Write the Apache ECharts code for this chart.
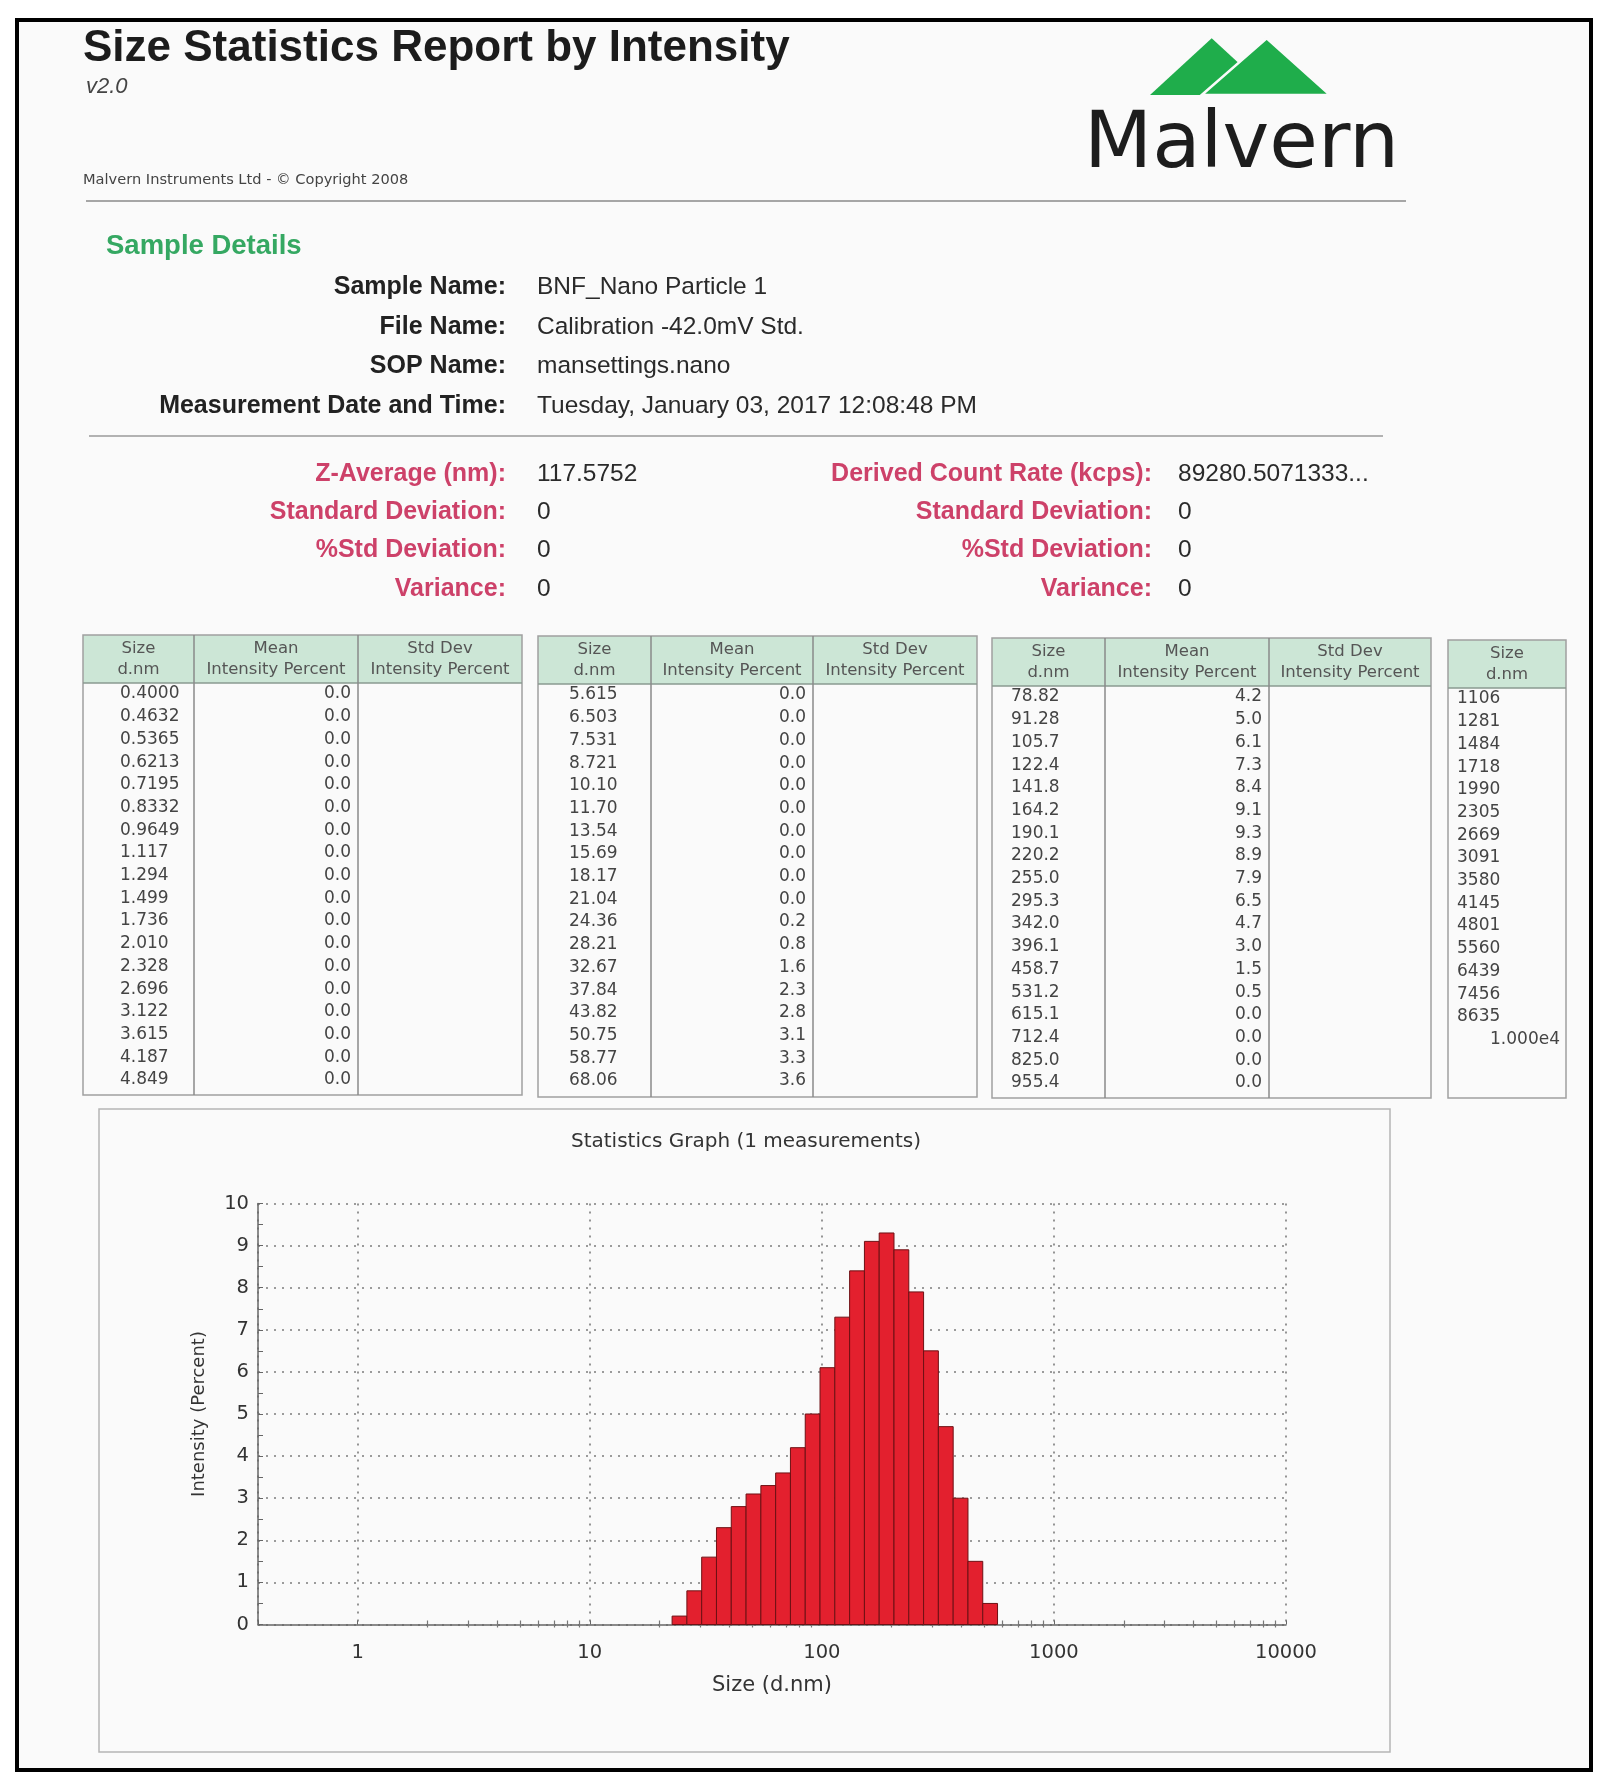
<!DOCTYPE html>
<html>
<head>
<meta charset="utf-8">
<title>Size Statistics Report by Intensity</title>
<script src="https://cdn.jsdelivr.net/npm/echarts@6/dist/echarts.min.js"></script>
<style>
    html, body { margin: 0; padding: 0; background: #fff; }
    #main { width: 1608px; height: 1792px; }
</style>
</head>
<body>
<div id="main"></div>
<script>
    // size bins (d.nm) as printed in the four tables
    var sizeTable1 = ['0.4000', '0.4632', '0.5365', '0.6213', '0.7195', '0.8332', '0.9649', '1.117', '1.294',
        '1.499', '1.736', '2.010', '2.328', '2.696', '3.122', '3.615', '4.187', '4.849'];
    var sizeTable2 = ['5.615', '6.503', '7.531', '8.721', '10.10', '11.70', '13.54', '15.69', '18.17',
        '21.04', '24.36', '28.21', '32.67', '37.84', '43.82', '50.75', '58.77', '68.06'];
    var sizeTable3 = ['78.82', '91.28', '105.7', '122.4', '141.8', '164.2', '190.1', '220.2', '255.0',
        '295.3', '342.0', '396.1', '458.7', '531.2', '615.1', '712.4', '825.0', '955.4'];
    var sizeTable4 = ['1106', '1281', '1484', '1718', '1990', '2305', '2669', '3091', '3580',
        '4145', '4801', '5560', '6439', '7456', '8635', '1.000e4'];

    // mean intensity percent
    var meanTable1 = [0, 0, 0, 0, 0, 0, 0, 0, 0, 0, 0, 0, 0, 0, 0, 0, 0, 0];
    var meanTable2 = [0, 0, 0, 0, 0, 0, 0, 0, 0, 0, 0.2, 0.8, 1.6, 2.3, 2.8, 3.1, 3.3, 3.6];
    var meanTable3 = [4.2, 5.0, 6.1, 7.3, 8.4, 9.1, 9.3, 8.9, 7.9, 6.5, 4.7, 3.0, 1.5, 0.5, 0, 0, 0, 0];
    var meanTable4 = [0, 0, 0, 0, 0, 0, 0, 0, 0, 0, 0, 0, 0, 0, 0, 0];

    var headTop = ['Size', 'Mean', 'Std Dev'];
    var headBottom = ['d.nm', 'Intensity Percent', 'Intensity Percent'];

    var detailLabels = ['Sample Name:', 'File Name:', 'SOP Name:', 'Measurement Date and Time:'];
    var detailValues = ['BNF_Nano Particle 1', 'Calibration -42.0mV Std.', 'mansettings.nano',
        'Tuesday, January 03, 2017 12:08:48 PM'];
    var statLabelsLeft = ['Z-Average (nm):', 'Standard Deviation:', '%Std Deviation:', 'Variance:'];
    var statValuesLeft = ['117.5752', '0', '0', '0'];
    var statLabelsRight = ['Derived Count Rate (kcps):', 'Standard Deviation:', '%Std Deviation:', 'Variance:'];
    var statValuesRight = ['89280.5071333...', '0', '0', '0'];

    var xTickValues = [1, 10, 100, 1000, 10000];
    var xMinorTicks = [2, 3, 4, 5, 6, 7, 8, 9, 20, 30, 40, 50, 60, 70, 80, 90,
        200, 300, 400, 500, 600, 700, 800, 900, 2000, 3000, 4000, 5000, 6000, 7000, 8000, 9000];

    var allSizes = sizeTable1.concat(sizeTable2, sizeTable3, sizeTable4).map(parseFloat);
    var allMeans = meanTable1.concat(meanTable2, meanTable3, meanTable4);

    // bars: each bin spans from the geometric midpoint to its neighbours
    var barData = [];
    for (var i = 0; i < allSizes.length; i++) {
        var s = allSizes[i];
        var lo = i > 0 ? Math.sqrt(allSizes[i - 1] * s) : s * Math.sqrt(s / allSizes[1]);
        var hi = i < allSizes.length - 1 ? Math.sqrt(allSizes[i + 1] * s) : s * Math.sqrt(s / allSizes[i - 1]);
        if (allMeans[i] > 0) barData.push([s, allMeans[i], lo, hi]);
    }

    var els = [];
    var SANS = '"Liberation Sans", Arial, sans-serif';
    var WIDE = '"DejaVu Sans", sans-serif';

    function txt(x, y, s, font, fill, align) {
        els.push({
            type: 'text', x: x, y: y, z: 10,
            style: { text: s, font: font, fill: fill, align: align || 'left', textAlign: align || 'left',
                verticalAlign: 'middle', textVerticalAlign: 'middle' }
        });
    }
    function line(x1, y1, x2, y2, color, w) {
        els.push({ type: 'line', z: 10, shape: { x1: x1, y1: y1, x2: x2, y2: y2 },
            style: { stroke: color, lineWidth: w || 1 } });
    }

    // page + frame
    els.push({ type: 'rect', z: -5, shape: { x: 17, y: 20, width: 1574, height: 1750 },
        style: { fill: '#fafafa', stroke: '#000', lineWidth: 4 } });

    // header
    txt(83, 49, 'Size Statistics Report by Intensity', 'bold 44px ' + SANS, '#1c1c1c');
    txt(86, 87, 'v2.0', 'italic 22px ' + SANS, '#444');
    txt(83, 180, 'Malvern Instruments Ltd - \u00a9 Copyright 2008', '14.6px ' + WIDE, '#444');
    line(86, 201, 1406, 201, '#8a8a8a', 1.5);

    // logo
    els.push({ type: 'polygon', z: 10, shape: { points: [[1150, 95], [1211.7, 38.3], [1273.3, 95]] },
        style: { fill: '#1fad4b' } });
    els.push({ type: 'polygon', z: 11, shape: { points: [[1201.7, 95], [1266.7, 38.3], [1330, 95]] },
        style: { fill: '#1fad4b', stroke: '#fafafa', lineWidth: 2.5 } });
    txt(1084, 146, 'Malvern', '79px ' + WIDE, '#1d1d1d');

    // sample details
    txt(106, 246, 'Sample Details', 'bold 27.5px ' + SANS, '#35a862');
    var detailY = [287, 327, 366, 406];
    detailLabels.forEach(function (l, k) {
        txt(506, detailY[k], l, 'bold 25px ' + SANS, '#222', 'right');
        txt(537, detailY[k], detailValues[k], '24.5px ' + SANS, '#2a2a2a');
    });
    line(89, 436, 1383, 436, '#9a9a9a', 1.5);

    var statY = [474, 512, 550, 589];
    for (var k = 0; k < 4; k++) {
        txt(506, statY[k], statLabelsLeft[k], 'bold 25px ' + SANS, '#cd4169', 'right');
        txt(537, statY[k], statValuesLeft[k], '24.5px ' + SANS, '#2a2a2a');
        txt(1152, statY[k], statLabelsRight[k], 'bold 25px ' + SANS, '#cd4169', 'right');
        txt(1178, statY[k], statValuesRight[k], '24.5px ' + SANS, '#2a2a2a');
    }

    // tables
    function drawTable(t, sizes, means) {
        var edges = [t.x].concat(t.cols, [t.x + t.w]);
        els.push({ type: 'rect', z: 8, shape: { x: t.x, y: t.y, width: t.w, height: 48 },
            style: { fill: '#cce6d6' } });
        els.push({ type: 'rect', z: 9, shape: { x: t.x, y: t.y, width: t.w, height: t.h },
            style: { fill: 'none', stroke: '#a0a0a0', lineWidth: 1.5 } });
        line(t.x, t.y + 48, t.x + t.w, t.y + 48, '#8a9a90', 1.5);
        t.cols.forEach(function (cx) { line(cx, t.y, cx, t.y + t.h, '#8a8a8a', 1.5); });
        for (var c = 0; c < edges.length - 1; c++) {
            var mid = (edges[c] + edges[c + 1]) / 2;
            txt(mid, t.y + 14, headTop[c], '16.5px ' + WIDE, '#555', 'center');
            txt(mid, t.y + 35, headBottom[c], '16.5px ' + WIDE, '#555', 'center');
        }
        sizes.forEach(function (sz, r) {
            var ry = t.y + 59 + r * 22.7;
            if (sz.indexOf('e') > 0) txt(edges[1] - 6, ry, sz, '17px ' + WIDE, '#444', 'right');
            else txt(t.x + t.sizeOff, ry, sz, '17px ' + WIDE, '#444');
            if (means) txt(edges[2] - 7, ry, means[r].toFixed(1), '17px ' + WIDE, '#444', 'right');
        });
    }
    drawTable({ x: 83, y: 635, w: 439, h: 460, cols: [194, 358], sizeOff: 37 }, sizeTable1, meanTable1);
    drawTable({ x: 538, y: 636, w: 439, h: 461, cols: [651, 813], sizeOff: 31 }, sizeTable2, meanTable2);
    drawTable({ x: 992, y: 638, w: 439, h: 460, cols: [1105, 1269], sizeOff: 19 }, sizeTable3, meanTable3);
    drawTable({ x: 1448, y: 640, w: 118, h: 458, cols: [], sizeOff: 9 }, sizeTable4, null);

    // graph frame + title
    els.push({ type: 'rect', z: -1, shape: { x: 99, y: 1109, width: 1291, height: 643 },
        style: { fill: 'none', stroke: '#b5b5b5', lineWidth: 1.5 } });
    txt(746, 1142, 'Statistics Graph (1 measurements)', '20px ' + WIDE, '#333', 'center');

    var gridDots = { color: '#7c7c7c', type: [2, 6], width: 1.6 };
    var minorAxis = function (inside, len) {
        return {
            type: 'log', logBase: 10, min: 0.372, max: 10000, position: 'bottom', gridIndex: 0,
            axisLine: { show: false }, axisLabel: { show: false }, splitLine: { show: false },
            axisTick: { show: true, inside: inside, length: len, customValues: xMinorTicks,
                lineStyle: { color: '#777', width: 1.2 } }
        };
    };

    var chart = echarts.init(document.getElementById('main'));
    var option = {
        backgroundColor: '#ffffff',
        animation: false,
        grid: { left: 258, right: 322, top: 1203.5, bottom: 167.5, outerBoundsMode: 'none' },
        xAxis: [{
            type: 'log', logBase: 10, min: 0.372, max: 10000, position: 'bottom', gridIndex: 0,
            name: 'Size (d.nm)', nameLocation: 'middle', nameGap: 51,
            nameTextStyle: { color: '#333', fontFamily: 'DejaVu Sans', fontSize: 21 },
            axisLine: { show: true, lineStyle: { color: '#666', width: 1.5 } },
            axisTick: { show: true, inside: true, length: 4, lineStyle: { color: '#666' } },
            axisLabel: {
                margin: 18, color: '#333', fontFamily: 'DejaVu Sans', fontSize: 19.5,
                formatter: function (v) {
                    for (var j = 0; j < xTickValues.length; j++) {
                        if (Math.abs(v - xTickValues[j]) < 1e-6 * xTickValues[j]) return String(xTickValues[j]);
                    }
                    return '';
                }
            },
            splitLine: { show: true, lineStyle: gridDots }
        }, minorAxis(true, 4), minorAxis(false, 3)],
        yAxis: {
            type: 'value', min: 0, max: 10, interval: 1,
            name: 'Intensity (Percent)', nameLocation: 'middle', nameGap: 50, nameRotate: 90,
            nameTextStyle: { color: '#333', fontFamily: 'DejaVu Sans', fontSize: 18 },
            axisLine: { show: true, lineStyle: { color: '#666', width: 1.5 } },
            axisTick: { show: true, inside: true, length: 5, lineStyle: { color: '#666' } },
            minorTick: { show: true, splitNumber: 2, length: 5, lineStyle: { color: '#666' } },
            axisLabel: { margin: 9, color: '#333', fontFamily: 'DejaVu Sans', fontSize: 19.5 },
            splitLine: { show: true, lineStyle: gridDots }
        },
        series: [{
            type: 'custom',
            xAxisIndex: 0,
            yAxisIndex: 0,
            data: barData,
            encode: { x: 0, y: 1 },
            renderItem: function (params, api) {
                var p0 = api.coord([api.value(2), api.value(1)]);
                var p1 = api.coord([api.value(3), 0]);
                return {
                    type: 'rect',
                    shape: { x: p0[0], y: p0[1], width: p1[0] - p0[0], height: p1[1] - p0[1] },
                    style: { fill: '#e3202e', stroke: '#6e1014', lineWidth: 1 }
                };
            }
        }],
        graphic: { elements: els }
    };
    chart.setOption(option);
</script>
</body>
</html>
